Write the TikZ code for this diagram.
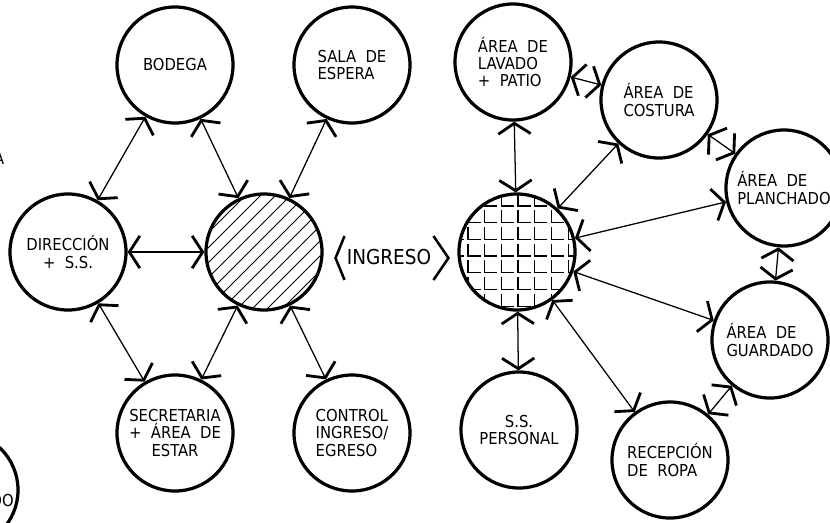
\documentclass[tikz,border=0pt]{standalone}
\usepackage{fontspec}
\setmainfont{DejaVu Sans Condensed}
\usepackage{tikz}
\usetikzlibrary{arrows.meta,calc}

\begin{document}
\begin{tikzpicture}[
  x=0.025cm, y=-0.025cm,
  font={\fontsize{11.7pt}{12.4pt}\selectfont},
  >={Straight Barb[length=7.5pt, width=23pt, line width=2pt]},
  zone/.style={circle, draw, line width=2.3pt, minimum size=2.9cm, inner sep=0pt, align=left},
  link/.style={<->, line width=0.9pt},
  chevron/.style={line width=1.8pt}
]
  \useasboundingbox (0,0) rectangle (830,522);

  % ----------------------------------------------------
  % Zona administrativa (izquierda)
  % ----------------------------------------------------
  \node[zone] (bodega) at (175,65) {BODEGA};
  \node[zone] (sala) at (352,65) {SALA~ DE\\ESPERA};
  \node[zone, align=center] (direccion) at (68,252) {DIRECCIÓN\\+~~S.S.};
  \node[zone] (vestibulo) at (264,252) {};
  \node[zone, align=center] (secretaria) at (175,433) {SECRETARIA\\+~~ÁREA~ DE\\ESTAR};
  \node[zone] (control) at (352,433) {CONTROL\\INGRESO/\\EGRESO};

  % hatching of the hall
  \begin{scope}
    \clip (vestibulo.center) circle [radius=1.42cm];
    \foreach \k in {-6,...,6} {
      \draw[line width=0.6pt] ($(vestibulo.center)+(\k*15-90,90)$) -- ++(180,-180);
    }
  \end{scope}

  % ----------------------------------------------------
  % Acceso
  % ----------------------------------------------------
  \node[inner sep=0pt, font={\fontsize{14.6pt}{15pt}\selectfont}] (ingreso) at (389,257) {INGRESO};
  \draw[chevron] ($(ingreso.west)+(-2,-21)$) -- ($(ingreso.west)+(-11,1)$) -- ($(ingreso.west)+(-2,23)$);
  \draw[chevron] ($(ingreso.east)+(2,-21)$) -- ($(ingreso.east)+(17,1)$) -- ($(ingreso.east)+(2,23)$);

  % ----------------------------------------------------
  % Zona de servicio (derecha)
  % ----------------------------------------------------
  \node[zone] (lavado) at (513,62) {ÁREA~ DE\\LAVADO\\+~~PATIO};
  \node[zone] (costura) at (659,100) {ÁREA~ DE\\COSTURA};
  \node[zone] (planchado) at (784,188) {ÁREA~ DE\\PLANCHADO};
  \node[zone] (distribuidor) at (517,252) {};
  \node[zone] (guardado) at (770,340) {ÁREA~ DE\\GUARDADO};
  \node[zone, align=center] (personal) at (519,430) {S.S.\\PERSONAL};
  \node[zone] (recepcion) at (670,460) {RECEPCIÓN\\DE~ ROPA};

  % grid of the service hall
  \begin{scope}
    \clip (distribuidor.center) circle [radius=1.43cm];
    \foreach \i in {-1,...,7} {
      \foreach \j in {0,...,7} {
        \draw[line width=0.9pt] (468+\i*16.7,206+\j*16.7-12.5) -- (468+\i*16.7,206+\j*16.7) -- ++(12.5,0);
      }
    }
  \end{scope}

  % cut-off pieces at the left edge
  \node[zone] (recorte) at (-40,490) {};
  \node[anchor=east, inner sep=0pt] (recorteTexto) at (14,501) {DO};
  \node[anchor=east, inner sep=0pt] (bordeA) at (4.5,158) {A};

  % ----------------------------------------------------
  % Relaciones
  % ----------------------------------------------------
  \draw[link] (bodega) -- (direccion);
  \draw[link] (bodega) -- (vestibulo);
  \draw[link] (sala) -- (vestibulo);
  \draw[link] (direccion) -- (vestibulo);
  \draw[link] (direccion) -- (secretaria);
  \draw[link] (vestibulo) -- (secretaria);
  \draw[link] (vestibulo) -- (control);

  \draw[link] (lavado) -- (costura);
  \draw[link] (lavado) -- (distribuidor);
  \draw[link] (costura) -- (distribuidor);
  \draw[link] (costura) -- (planchado);
  \draw[link] (planchado) -- (distribuidor);
  \draw[link] (planchado) -- (guardado);
  \draw[link] (guardado) -- (distribuidor);
  \draw[link] (distribuidor) -- (personal);
  \draw[link] (distribuidor) -- (recepcion);
  \draw[link] (guardado) -- (recepcion);

\end{tikzpicture}
\end{document}
